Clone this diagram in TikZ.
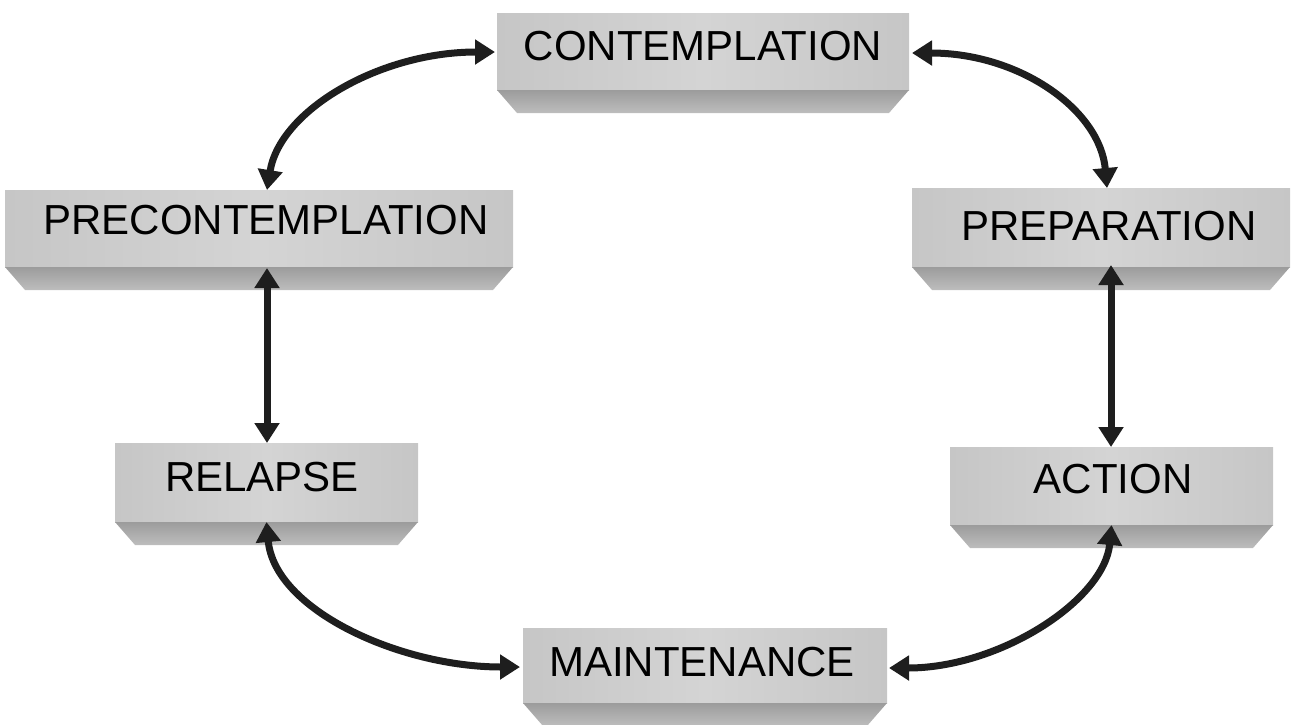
\documentclass[tikz,border=0pt]{standalone}
\usepackage{fontspec}
\setmainfont{Liberation Sans}
\usetikzlibrary{arrows.meta}

\definecolor{facegrey}{HTML}{C6C6C6}
\definecolor{facelight}{HTML}{D4D4D4}
\definecolor{beveltop}{HTML}{9C9C9C}
\definecolor{bevelbot}{HTML}{BDBDBD}
\definecolor{linkink}{HTML}{1E1E1E}

\tikzset{
  % bevelled grey plate: flat face on top, chamfered band underneath
  stagebox/.style={
    inner sep=0pt, outer sep=0pt,
    path picture={
      \shade[left color=facegrey, right color=facegrey, middle color=facelight]
        (path picture bounding box.north west)
        rectangle ([yshift=23pt]path picture bounding box.south east);
      \shade[top color=beveltop, bottom color=bevelbot]
        ([yshift=23pt]path picture bounding box.south west)
        -- ([yshift=23pt]path picture bounding box.south east)
        -- ([xshift=-20pt]path picture bounding box.south east)
        -- ([xshift=20pt]path picture bounding box.south west)
        -- cycle;
    }
  },
  stagetext/.style={inner sep=0pt, font=\fontsize{42}{50}\selectfont, text=black},
  link/.style={
    line width=7pt, draw=linkink,
    {Triangle[length=20pt,width=24pt]}-{Triangle[length=20pt,width=24pt]}
  }
}

\begin{document}
\begin{tikzpicture}[x=1pt,y=-1pt]
  \useasboundingbox (0,0) rectangle (1295,724);

  % plates
  \node[stagebox, minimum width=412pt, minimum height=100pt] (con)  at (703,63)    {};
  \node[stagebox, minimum width=508pt, minimum height=100pt] (pre)  at (259,240)   {};
  \node[stagebox, minimum width=378pt, minimum height=102pt] (prep) at (1101,239)  {};
  \node[stagebox, minimum width=303pt, minimum height=102pt] (rel)  at (266.5,494) {};
  \node[stagebox, minimum width=323pt, minimum height=101pt] (act)  at (1111.5,497.5) {};
  \node[stagebox, minimum width=364pt, minimum height=98pt]  (mai)  at (705,677)   {};

  % labels
  \node[stagetext] (con-t)  at (703,46)  {CONTEMPLATION};
  \node[stagetext] (pre-t)  at (266,220) {PRECONTEMPLATION};
  \node[stagetext] (prep-t) at (1109,226) {PREPARATION};
  \node[stagetext] (rel-t)  at (262,477) {RELAPSE};
  \node[stagetext] (act-t)  at (1113,479) {ACTION};
  \node[stagetext] (mai-t)  at (702,662) {MAINTENANCE};

  % two-way links around the cycle
  \draw[link] ([xshift=8pt]pre.north)
      .. controls +(13,-80) and +(-115,0) .. ([xshift=-2pt,yshift=11pt]con.west);
  \draw[link] ([xshift=3pt,yshift=10pt]con.east)
      .. controls +(108,0) and +(-7,-78) .. ([xshift=6pt]prep.north);
  \draw[link] ([xshift=8pt,yshift=22pt]pre.south) -- ([xshift=0.5pt]rel.north);
  \draw[link] ([xshift=10pt,yshift=25pt]prep.south) -- ([xshift=-0.5pt]act.north);
  \draw[link] ([yshift=23pt]rel.south)
      .. controls +(8,88) and +(-120,0) .. ([xshift=-3pt,yshift=10pt]mai.west);
  \draw[link] ([yshift=23pt]act.south)
      .. controls +(-7,75) and +(111,0) .. ([xshift=2pt,yshift=9pt]mai.east);
\end{tikzpicture}
\end{document}
